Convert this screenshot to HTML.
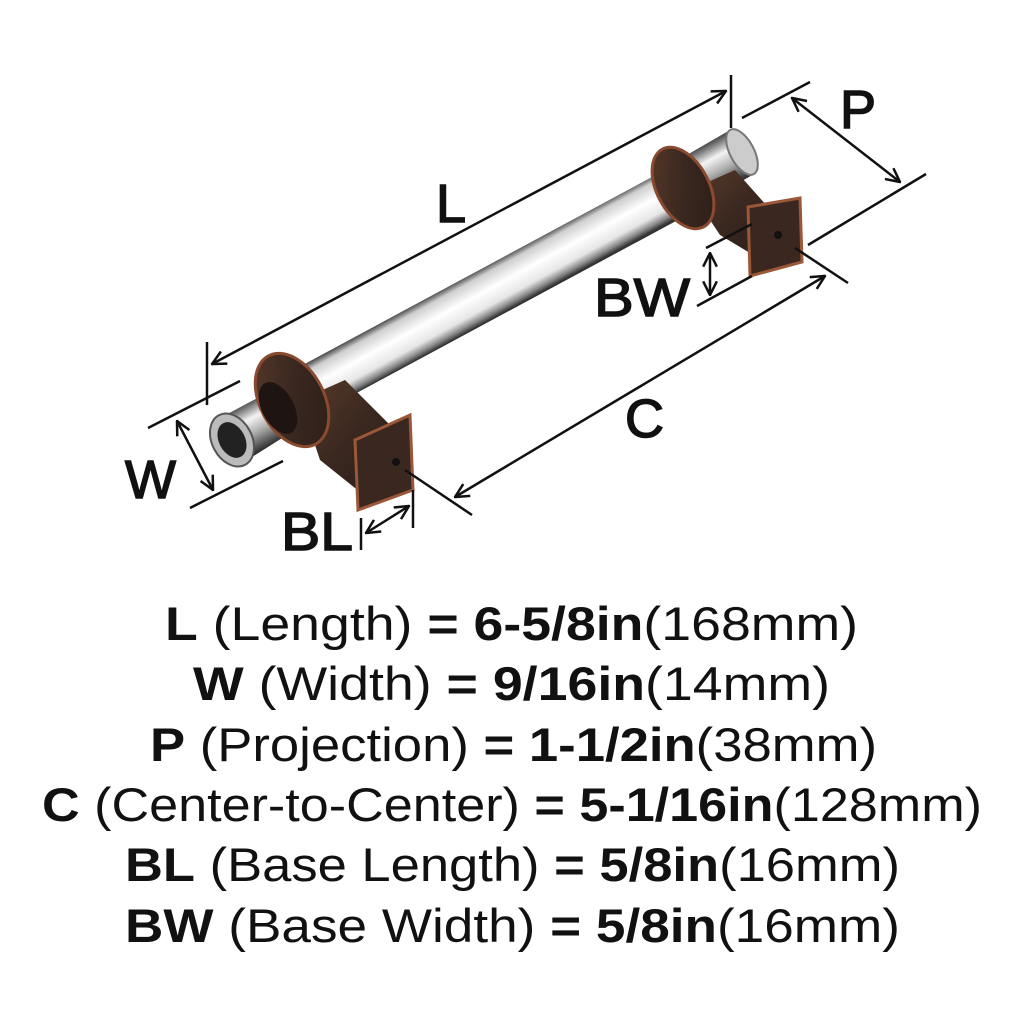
<!DOCTYPE html>
<html><head><meta charset="utf-8"><style>
html,body{margin:0;padding:0;background:#fff;width:1024px;height:1024px;overflow:hidden}
svg{display:block}
</style></head><body>
<svg width="1024" height="1024" viewBox="0 0 1024 1024" xmlns="http://www.w3.org/2000/svg">
<defs>
<linearGradient id="glass" x1="288" y1="373" x2="312" y2="417" gradientUnits="userSpaceOnUse">
<stop offset="0" stop-color="#444"/><stop offset="0.15" stop-color="#cfcfcf"/><stop offset="0.45" stop-color="#ffffff"/><stop offset="0.75" stop-color="#e6e6e6"/><stop offset="0.9" stop-color="#888"/><stop offset="1" stop-color="#333"/>
</linearGradient>
<linearGradient id="chromeC" x1="220" y1="418" x2="244" y2="462" gradientUnits="userSpaceOnUse">
<stop offset="0" stop-color="#555"/><stop offset="0.3" stop-color="#f4f4f4"/><stop offset="0.6" stop-color="#aaa"/><stop offset="1" stop-color="#222"/>
</linearGradient>
<linearGradient id="chromeC2" x1="673" y1="163" x2="697" y2="207" gradientUnits="userSpaceOnUse">
<stop offset="0" stop-color="#555"/><stop offset="0.3" stop-color="#f4f4f4"/><stop offset="0.6" stop-color="#aaa"/><stop offset="1" stop-color="#222"/>
</linearGradient>
<linearGradient id="bronze" x1="0" y1="0" x2="1" y2="1">
<stop offset="0" stop-color="#5a3a2a"/><stop offset="0.5" stop-color="#3a2820"/><stop offset="1" stop-color="#2a1d18"/>
</linearGradient>
<marker id="ah" viewBox="0 0 14 14" refX="13" refY="7" markerWidth="16" markerHeight="16" markerUnits="userSpaceOnUse" orient="auto-start-reverse">
<path d="M1,1 L13,7 L1,13" fill="none" stroke="#111" stroke-width="2.2"/>
</marker>
</defs>

<!-- right chrome end -->
<polygon points="673,163 730,130 754,174 697,207" fill="url(#chromeC2)"/>
<ellipse cx="742" cy="152" rx="12" ry="25" transform="rotate(-28 742 152)" fill="#ccc" stroke="#777" stroke-width="2"/>
<!-- glass bar -->
<polygon points="288,373 678,163 702,207 312,417" fill="url(#glass)"/>
<!-- right post -->
<polygon points="690,190 735,170 775,215 765,262 720,235" fill="url(#bronze)"/>
<ellipse cx="683" cy="188" rx="26" ry="44" transform="rotate(-28 683 188)" fill="url(#bronze)" stroke="#8a4a30" stroke-width="3"/>
<polygon points="748,207 800,198 802,262 750,276" fill="#3a2820" stroke="#9a5838" stroke-width="3"/>
<circle cx="778" cy="235" r="4" fill="#111"/>
<!-- left chrome end -->
<polygon points="220,418 263,395 287,435 244,462" fill="url(#chromeC)"/>
<ellipse cx="232" cy="440" rx="20" ry="28" transform="rotate(-28 232 440)" fill="#bbb" stroke="#555" stroke-width="2"/>
<ellipse cx="232" cy="440" rx="13" ry="19" transform="rotate(-28 232 440)" fill="#222"/>
<!-- left post -->
<polygon points="300,400 345,380 395,430 370,500 320,460" fill="url(#bronze)"/>
<ellipse cx="292" cy="400" rx="32" ry="50" transform="rotate(-28 292 400)" fill="url(#bronze)" stroke="#8a4a30" stroke-width="3"/>
<ellipse cx="278" cy="408" rx="16" ry="28" transform="rotate(-28 278 408)" fill="#1e1512"/>
<polygon points="355,440 410,415 413,490 358,510" fill="#3a2820" stroke="#9a5838" stroke-width="3"/>
<circle cx="396" cy="462" r="4" fill="#111"/>

<!-- dimension lines -->
<g stroke="#111" stroke-width="2.5" fill="none">
<line x1="212" y1="364" x2="726" y2="91" marker-start="url(#ah)" marker-end="url(#ah)"/>
<line x1="207" y1="342" x2="207" y2="405"/>
<line x1="731" y1="75" x2="731" y2="128"/>
<line x1="742" y1="118" x2="810" y2="82"/>
<line x1="808" y1="245" x2="926" y2="174"/>
<line x1="792" y1="98" x2="900" y2="182" marker-start="url(#ah)" marker-end="url(#ah)"/>
<line x1="148" y1="428" x2="240" y2="381"/>
<line x1="190" y1="508" x2="283" y2="461"/>
<line x1="177" y1="421" x2="213" y2="490" marker-start="url(#ah)" marker-end="url(#ah)"/>
<line x1="706" y1="248" x2="752" y2="224"/>
<line x1="697" y1="306" x2="752" y2="276"/>
<line x1="710" y1="253" x2="710" y2="295" marker-start="url(#ah)" marker-end="url(#ah)"/>
<line x1="405" y1="470" x2="472" y2="515"/>
<line x1="795" y1="248" x2="848" y2="283"/>
<line x1="455" y1="497" x2="825" y2="276" marker-start="url(#ah)" marker-end="url(#ah)"/>
<line x1="361" y1="518" x2="361" y2="550"/>
<line x1="413" y1="490" x2="413" y2="528"/>
<line x1="366" y1="533" x2="409" y2="506" marker-start="url(#ah)" marker-end="url(#ah)"/>
</g>
<g font-family="Liberation Sans, sans-serif" font-size="54" fill="#111" stroke="#111" stroke-width="1.5">
<text x="436" y="222">L</text>
<text x="840" y="128">P</text>
<text x="125" y="498">W</text>
<text x="594" y="316" textLength="96" lengthAdjust="spacingAndGlyphs">BW</text>
<text x="625" y="437">C</text>
<text x="281" y="550" textLength="72" lengthAdjust="spacingAndGlyphs">BL</text>
</g>

<g font-family="Liberation Sans, sans-serif" font-size="47" fill="#111">
<text x="165" y="640" textLength="693" lengthAdjust="spacingAndGlyphs"><tspan font-weight="bold">L</tspan> (Length) <tspan font-weight="bold">= 6-5/8in</tspan>(168mm)</text>
<text x="193" y="700" textLength="637" lengthAdjust="spacingAndGlyphs"><tspan font-weight="bold">W</tspan> (Width) <tspan font-weight="bold">= 9/16in</tspan>(14mm)</text>
<text x="150" y="761" textLength="727" lengthAdjust="spacingAndGlyphs"><tspan font-weight="bold">P</tspan> (Projection) <tspan font-weight="bold">= 1-1/2in</tspan>(38mm)</text>
<text x="42" y="821" textLength="940" lengthAdjust="spacingAndGlyphs"><tspan font-weight="bold">C</tspan> (Center-to-Center) <tspan font-weight="bold">= 5-1/16in</tspan>(128mm)</text>
<text x="125" y="881" textLength="775" lengthAdjust="spacingAndGlyphs"><tspan font-weight="bold">BL</tspan> (Base Length) <tspan font-weight="bold">= 5/8in</tspan>(16mm)</text>
<text x="125" y="942" textLength="775" lengthAdjust="spacingAndGlyphs"><tspan font-weight="bold">BW</tspan> (Base Width) <tspan font-weight="bold">= 5/8in</tspan>(16mm)</text>
</g>
</svg>
</body></html>
